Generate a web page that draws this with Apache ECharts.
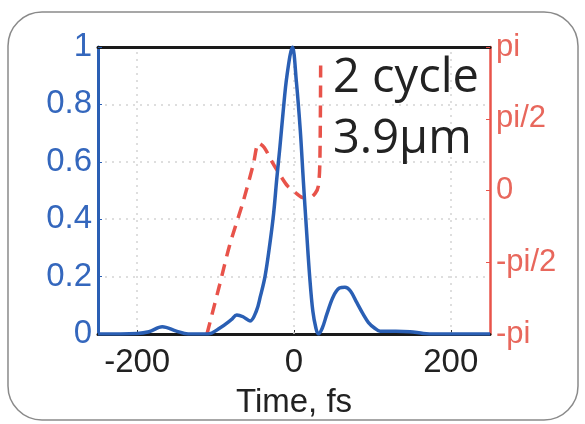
<!DOCTYPE html>
<html>
<head>
<meta charset="utf-8">
<script src="https://cdn.jsdelivr.net/npm/echarts@6/dist/echarts.min.js"></script>
<style>
html,body{margin:0;padding:0;background:#fff;}
#c{width:585px;height:424px;}
</style>
</head>
<body>
<div id="c"></div>
<script>
// Time axis (fs)
const timeTicks = [-200, 0, 200];
// Intensity envelope (normalized), [time fs, value]
const intensityTime = [-250,-200,-185,-168,-150,-135,-110,-95,-80,-73,-65,-56,-48,-43,-37,-31,-26,-22,-18,-14,-9,-2,3,8,12,16,20,24,28,31,36,42,50,58,65,72,80,88,95,103,110,130,148,165,180,250];
const intensityValue = [0,0.002,0.008,0.025,0.01,0,0,0.02,0.05,0.066,0.06,0.045,0.08,0.13,0.2,0.31,0.42,0.54,0.65,0.77,0.9,1.0,0.88,0.71,0.53,0.36,0.2,0.08,0.02,0,0.02,0.07,0.13,0.16,0.163,0.15,0.11,0.07,0.04,0.02,0.01,0.01,0.008,0.002,0,0];
// Phase (units of pi), [time fs, value]
const phaseTime = [-111,-95,-82,-65,-52,-45,-38,-28,-18,-8,3,12,20,27,31,33,34];
const phaseValue = [-1,-0.66,-0.38,-0.08,0.18,0.33,0.3,0.2,0.11,0.03,-0.02,-0.05,-0.05,-0.02,0.03,0.2,0.88];
const phaseTickLabels = {'-1':'-pi','-0.5':'-pi/2','0':'0','0.5':'pi/2','1':'pi'};
const annotation = ['2 cycle', '3.9\u03bcm'];

const blue = '#2a5fb4';
const red = '#e8534a';
const labelFont = 'Liberation Sans';

const chart = echarts.init(document.getElementById('c'), null, {renderer:'canvas'});
chart.setOption({
  animation:false,
  backgroundColor:'#fff',
  grid:{left:98, right:95, top:47, bottom:89},
  graphic:[
    {type:'rect', shape:{x:8, y:12, width:570, height:408, r:34}, style:{fill:'none', stroke:'#8a8a8a', lineWidth:1.5}, z:-10},
    {type:'text', left:333, top:55, style:{text:annotation[0], font:'47px "Open Sans"', fill:'#222'}, z:10},
    {type:'text', left:333, top:116, style:{text:annotation[1], font:'47px "Open Sans"', fill:'#222'}, z:10}
  ],
  xAxis:[{
    type:'value', min:-250, max:250,
    axisLine:{show:true, onZero:false, lineStyle:{color:'#1a1a1a', width:3}},
    axisTick:{show:true, inside:true, length:4, lineStyle:{color:'#333'}, customValues:timeTicks},
    axisLabel:{fontSize:33, fontFamily:labelFont, color:'#222', margin:12, customValues:timeTicks},
    splitLine:{show:false},
    name:'Time, fs', nameLocation:'middle', nameGap:52,
    nameTextStyle:{fontSize:33, fontFamily:labelFont, color:'#222'}
  },{
    type:'value', min:-250, max:250, position:'top',
    axisLine:{show:true, onZero:false, lineStyle:{color:'#1a1a1a', width:3}},
    axisTick:{show:false}, axisLabel:{show:false}, splitLine:{show:false}
  }],
  yAxis:[{
    type:'value', min:0, max:1, interval:0.2, position:'left',
    axisLine:{show:true, onZero:false, lineStyle:{color:blue, width:3}},
    axisTick:{show:true, inside:true, length:4, lineStyle:{color:blue}},
    axisLabel:{fontSize:33, fontFamily:labelFont, color:'#3467bd', margin:6,
      formatter:v=> (Math.abs(v-1)<1e-9?'1':(Math.abs(v)<1e-9?'0':v.toFixed(1)))},
    splitLine:{show:true, lineStyle:{color:'#d4d4d4', type:[2,5], width:1.5}}
  },{
    type:'value', min:-1, max:1, interval:0.5, position:'right',
    axisLine:{show:true, onZero:false, lineStyle:{color:red, width:2.5}},
    axisTick:{show:true, inside:true, length:4, lineStyle:{color:red}},
    axisLabel:{fontSize:31, fontFamily:labelFont, color:'#e8675c', margin:6,
      formatter:v=> phaseTickLabels[String(v)] || ''},
    splitLine:{show:false}
  }],
  series:[{
    type:'line', xAxisIndex:0, yAxisIndex:1, showSymbol:false, smooth:0.3,
    data: phaseTime.map((t,i)=>[t, phaseValue[i]]),
    lineStyle:{color:red, width:3.5, type:[12,8]}, z:3
  },{
    type:'line', xAxisIndex:0, yAxisIndex:0, showSymbol:false, smooth:0.35,
    data: intensityTime.map((t,i)=>[t, intensityValue[i]]),
    lineStyle:{color:blue, width:3.5}, z:4,
    markLine:{silent:true, symbol:'none', label:{show:false},
      lineStyle:{color:'#d4d4d4', type:[2,5], width:1.5},
      data: timeTicks.map(t=>({xAxis:t})), z:1}
  }]
});
</script>
</body>
</html>
